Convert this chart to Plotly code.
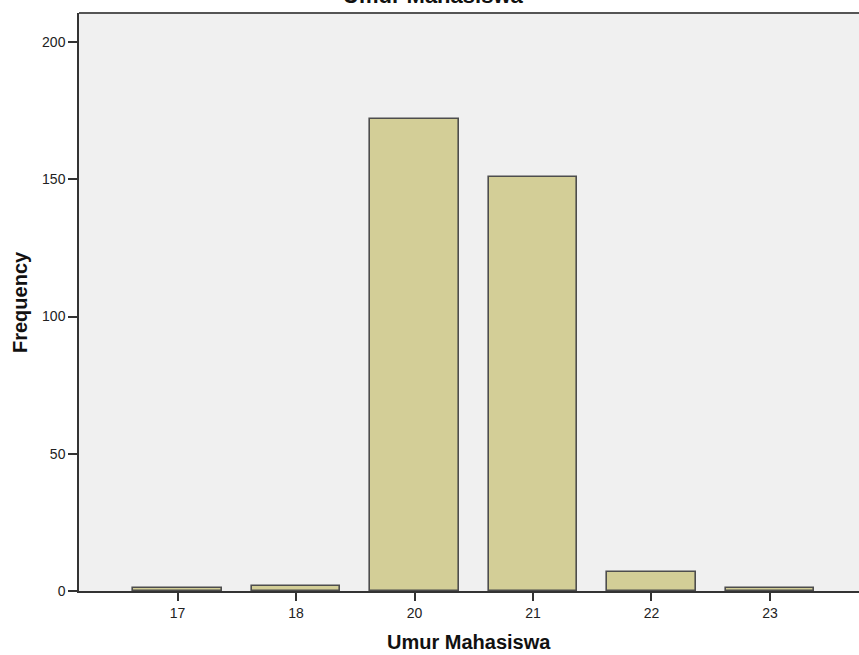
import plotly.graph_objects as go

categories = ["17", "18", "20", "21", "22", "23"]
frequency = [1, 2, 172, 151, 7, 1]
y_ticks = [0, 50, 100, 150, 200]

title_text = "Umur Mahasiswa"
x_title = "Umur Mahasiswa"
y_title = "Frequency"

FONT = "Liberation Sans, Arial, sans-serif"

fig = go.Figure()
fig.add_trace(go.Bar(
    x=categories, y=frequency, width=0.745,
    marker=dict(color="#D3CE97", line=dict(color="#4d4d4d", width=1.6)),
))

fig.update_layout(
    width=859, height=655,
    margin=dict(l=79, r=0, t=13, b=64),
    paper_bgcolor="white", plot_bgcolor="#F0F0F0",
    showlegend=False,
    font=dict(family=FONT, color="#222222"),
    bargap=0,
)
fig.update_xaxes(
    type="category", range=[-0.832, 5.752],
    showline=True, linecolor="#333333", linewidth=1.5, mirror=False,
    ticks="outside", ticklen=8, tickwidth=1.5, tickcolor="#333333",
    tickfont=dict(size=14, color="#222222", family=FONT),
    showgrid=False, zeroline=False,
)
fig.update_yaxes(
    range=[0, 210.6], tickvals=y_ticks,
    showline=True, linecolor="#333333", linewidth=1.5,
    ticks="outside", ticklen=9, tickwidth=1.5, tickcolor="#333333",
    tickfont=dict(size=14, color="#222222", family=FONT),
    showgrid=False, zeroline=False,
)
# top frame line
fig.add_shape(type="line", xref="paper", yref="paper", x0=0, x1=1, y0=1, y1=1,
              line=dict(color="#555555", width=2))

fig.add_annotation(text=f"<b>{title_text}</b>", xref="paper", yref="paper",
                   x=(432.5 - 79) / 780, y=1, yanchor="bottom", showarrow=False,
                   yshift=3, font=dict(size=22, color="#111111", family=FONT))
fig.add_annotation(text=f"<b>{x_title}</b>", xref="paper", yref="paper",
                   x=0.5, y=0, yanchor="middle", showarrow=False,
                   yshift=-51, font=dict(size=20, color="#111111", family=FONT))
fig.add_annotation(text=f"<b>{y_title}</b>", xref="paper", yref="paper",
                   x=0, y=0.5, xanchor="center", showarrow=False, textangle=-90,
                   xshift=-59, font=dict(size=20, color="#111111", family=FONT))

fig.write_html("out.html", config={"displayModeBar": False},
               post_script="document.body.style.margin='0px';document.body.style.overflow='hidden';")
